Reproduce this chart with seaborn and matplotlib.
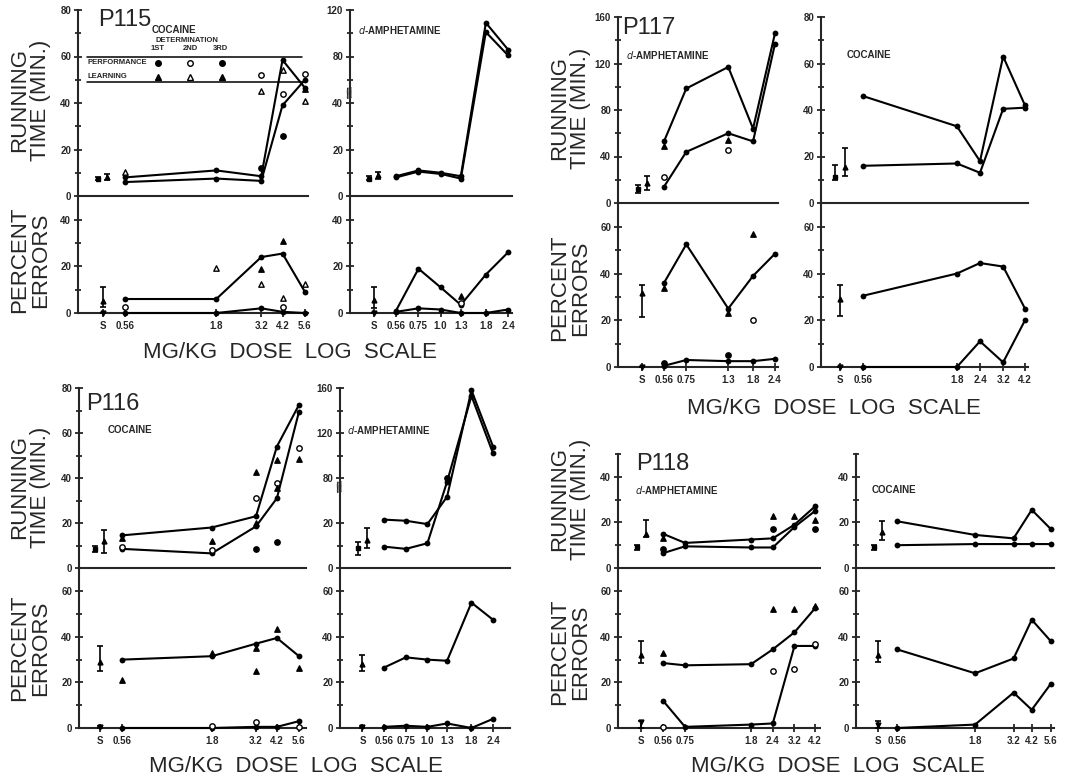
import numpy as np
import matplotlib
matplotlib.use("Agg")
import matplotlib.pyplot as plt
from matplotlib.lines import Line2D
from matplotlib.ticker import NullLocator, FixedLocator
import seaborn as sns

# ---------------- values ----------------
SALINE_AT = 0.42   # "S" sits just left of the lowest dose on the log axis

# P115 cocaine
P115C_DOSE = [0.56, 1.8, 3.2, 4.2, 5.6]
P115C_TIME_LRN = [8, 11, 8.5, 58.5, 46.5]
P115C_TIME_PRF = [6, 7.5, 6.5, 39, 50]
P115C_ERR_LRN = [6, 6, 24, 25.5, 9]
P115C_ERR_PRF = [0, 0, 2, 0.5, 0]
P115C_TPT_DOSE = [0.56, 3.2, 3.2, 3.2, 4.2, 4.2, 4.2, 5.6, 5.6, 5.6]
P115C_TPT_VAL = [10.5, 52, 45, 12, 44, 26, 54, 52.5, 41, 46]
P115C_TPT_KIND = ["tri_open", "circ_open", "tri_open", "circ_fill", "circ_open",
                  "circ_fill", "tri_open", "circ_open", "tri_open", "tri_fill"]
P115C_EPT_DOSE = [0.56, 1.8, 3.2, 3.2, 4.2, 4.2, 4.2, 5.6]
P115C_EPT_VAL = [2.5, 19.5, 19, 12.5, 31, 6.5, 2.5, 12.5]
P115C_EPT_KIND = ["circ_open", "tri_open", "tri_fill", "tri_open", "tri_fill",
                  "tri_open", "circ_open", "tri_open"]
P115C_BASE = [[7.5, 7, 8.2], [8, 6.8, 9.5], [5, 2.7, 11], [0, 0, 0]]  # time prf, time lrn, err lrn, err prf

# P115 d-amphetamine
P115A_DOSE = [0.56, 0.75, 1.0, 1.3, 1.8, 2.4]
P115A_TIME_LRN = [8.5, 11, 10, 8.5, 109, 86]
P115A_TIME_PRF = [8, 10.5, 9.5, 7.5, 101, 81]
P115A_ERR_LRN = [1, 19, 11, 3.5, 16.5, 26]
P115A_ERR_PRF = [0.5, 2, 1.5, 0, 0, 1.5]
P115A_EPT_DOSE = [1.3, 1.3]
P115A_EPT_VAL = [7.5, 4.5]
P115A_EPT_KIND = ["tri_fill", "circ_open"]
P115A_BASE = [[7.5, 7, 8.5], [9, 7.5, 10.5], [5.5, 2, 11], [0, 0, 0]]

# P117 d-amphetamine
P117A_DOSE = [0.56, 0.75, 1.3, 1.8, 2.4]
P117A_TIME_LRN = [53, 98.5, 117, 64, 146]
P117A_TIME_PRF = [14, 44, 60, 53, 137]
P117A_ERR_LRN = [36, 52.5, 25, 39, 48.5]
P117A_ERR_PRF = [0.5, 3, 2.5, 2.5, 3.5]
P117A_TPT_DOSE = [0.56, 0.56, 1.3, 1.3]
P117A_TPT_VAL = [49, 22.5, 54, 46]
P117A_TPT_KIND = ["tri_fill", "circ_open", "tri_fill", "circ_open"]
P117A_EPT_DOSE = [0.56, 0.56, 1.3, 1.3, 1.8, 1.8]
P117A_EPT_VAL = [34, 1.5, 23, 5, 57, 20]
P117A_EPT_KIND = ["tri_fill", "circ_fill", "tri_fill", "circ_fill", "tri_fill", "circ_open"]
P117A_BASE = [[12, 8.3, 15.5], [17.5, 11, 23.5], [31.5, 21.5, 35], [0, 0, 0]]

# P117 cocaine
P117C_DOSE = [0.56, 1.8, 2.4, 3.2, 4.2]
P117C_TIME_LRN = [46, 33, 18, 63, 42]
P117C_TIME_PRF = [16, 17, 13, 40.5, 41]
P117C_ERR_LRN = [30.5, 40, 44.5, 43, 25]
P117C_ERR_PRF = [0, 0, 11, 2, 20]
P117C_BASE = [[11, 10, 16.5], [15.5, 11.5, 23.5], [29, 22, 35], [0, 0, 0]]

# P116 cocaine
P116C_DOSE = [0.56, 1.8, 3.2, 4.2, 5.6]
P116C_TIME_LRN = [14.5, 18, 23, 54, 72.5]
P116C_TIME_PRF = [8.5, 6.5, 18.5, 31, 69.5]
P116C_ERR_LRN = [30, 31.5, 37, 39.5, 31.5]
P116C_ERR_PRF = [0, 0, 0.5, 0.5, 3]
P116C_TPT_DOSE = [0.56, 0.56, 1.8, 1.8, 3.2, 3.2, 3.2, 3.2, 4.2, 4.2, 4.2, 4.2, 5.6, 5.6]
P116C_TPT_VAL = [13.5, 9.5, 12, 8, 42.5, 31, 20, 8.5, 48, 38, 35.5, 11.5, 53.5, 48.5]
P116C_TPT_KIND = ["tri_fill", "circ_open", "tri_fill", "circ_open", "tri_fill", "circ_open",
                  "tri_fill", "circ_fill", "tri_fill", "circ_open", "tri_fill", "circ_fill",
                  "circ_open", "tri_fill"]
P116C_EPT_DOSE = [0.56, 1.8, 1.8, 3.2, 3.2, 3.2, 4.2, 5.6, 5.6]
P116C_EPT_VAL = [21, 33, 1, 35, 25, 2.5, 43.5, 26.5, 0.5]
P116C_EPT_KIND = ["tri_fill", "tri_fill", "circ_open", "tri_fill", "tri_fill", "circ_open",
                  "tri_fill", "tri_fill", "circ_open"]
P116C_BASE = [[8.5, 7, 10], [12, 6.5, 17], [29, 25, 36], [0.5, 0, 1]]

# P116 d-amphetamine
P116A_DOSE = [0.56, 0.75, 1.0, 1.3, 1.8, 2.4]
P116A_TIME_LRN = [24.5, 23, 19.5, 55, 158, 108]
P116A_TIME_PRF = [9.5, 8.5, 11, 75, 153, 102]
P116A_ERR_LRN = [26.5, 31, 30, 29.5, 55, 47.5]
P116A_ERR_PRF = [0.5, 1, 0.5, 2, 0, 4]
P116A_TPT_DOSE = [1.3]
P116A_TPT_VAL = [80]
P116A_TPT_KIND = ["circ_fill"]
P116A_BASE = [[9, 6, 11.5], [12.4, 9, 17.7], [28, 25, 32], [0.5, 0, 1]]

# P118 d-amphetamine
P118A_DOSE = [0.56, 0.75, 1.8, 2.4, 3.2, 4.2]
P118A_TIME_LRN = [15, 11, 12.5, 13, 19, 27]
P118A_TIME_PRF = [6.5, 9.5, 9, 9, 18, 25]
P118A_ERR_LRN = [28.5, 27.5, 28, 34.5, 42, 52.5]
P118A_ERR_PRF = [12, 0.5, 1.5, 2, 36, 36]
P118A_TPT_DOSE = [0.56, 0.56, 2.4, 2.4, 3.2, 4.2, 4.2]
P118A_TPT_VAL = [13, 8.5, 23, 17, 23, 21, 17]
P118A_TPT_KIND = ["tri_fill", "circ_fill", "tri_fill", "circ_fill", "tri_fill", "tri_fill", "circ_fill"]
P118A_EPT_DOSE = [0.56, 0.56, 2.4, 2.4, 3.2, 3.2, 4.2, 4.2]
P118A_EPT_VAL = [33, 0.5, 52, 25, 52, 26, 53.5, 37]
P118A_EPT_KIND = ["tri_fill", "circ_open", "tri_fill", "circ_open", "tri_fill", "circ_open",
                  "tri_fill", "circ_open"]
P118A_BASE = [[9, 8, 10], [15, 13.5, 21], [32, 28.5, 38], [2.5, 0, 3]]

# P118 cocaine
P118C_DOSE = [0.56, 1.8, 3.2, 4.2, 5.6]
P118C_TIME_LRN = [20.5, 14.5, 13, 25.5, 17]
P118C_TIME_PRF = [10, 10.5, 10.5, 10.5, 10.5]
P118C_ERR_LRN = [34.5, 24, 30.5, 47.5, 38]
P118C_ERR_PRF = [0, 1.5, 15.5, 8, 19.5]
P118C_BASE = [[9, 8, 10], [16, 12.5, 20.5], [32, 29, 38], [1.5, 0, 3]]

# broken running-time axes on the amphetamine plots (minutes -> drawn height)
P115A_BREAK_IN = [-100, 0, 40, 120, 1000]
P115A_BREAK_OUT = [-100, 0, 40, 80, 520]
P116A_BREAK_IN = [-100, 0, 20, 80, 160, 1000]
P116A_BREAK_OUT = [-100, 0, 20, 40, 80, 500]

# ---------------- figure ----------------
W, H = 1076, 779
sns.set_style("ticks")
plt.rcParams["font.family"] = ["Liberation Sans Narrow", "Liberation Sans", "DejaVu Sans"]
plt.rcParams["axes.linewidth"] = 1.5

fig = plt.figure(figsize=(W / 100, H / 100), dpi=100)

KIND_STYLE = {"circ_open": ("o", "white"), "circ_fill": ("o", "black"),
              "tri_open": ("^", "white"), "tri_fill": ("^", "black")}
TICKFONT = dict(fontsize=7, fontweight="bold")


def px_axes(l, r, t, b):
    return fig.add_axes([l / W, 1 - b / H, (r - l) / W, (b - t) / H])


def ftext(x, y, s, **kw):
    fig.text(x / W, 1 - y / H, s, **kw)


def dose_label(d):
    s = f"{d:.2f}"
    return s[:-1] if s.endswith("0") else s


def style_axis(ax, major, minor):
    sns.despine(ax=ax, top=True, right=True)
    ax.yaxis.set_major_locator(FixedLocator(major))
    ax.yaxis.set_minor_locator(FixedLocator(minor))
    ax.set_yticklabels([str(v) for v in major], **TICKFONT)
    ax.tick_params(axis="y", which="major", direction="inout", length=6, width=1.3, pad=2)
    ax.tick_params(axis="y", which="minor", direction="inout", length=5, width=1.3)
    ax.set_xscale("log")
    ax.xaxis.set_minor_locator(NullLocator())
    ax.set_facecolor("none")
    ax.set_xlabel("")
    ax.set_ylabel("")


def draw_points(ax, dose, val, kind):
    for k, (m, fc) in KIND_STYLE.items():
        xs = [d for d, kk in zip(dose, kind) if kk == k]
        ys = [v for v, kk in zip(val, kind) if kk == k]
        if xs:
            sns.scatterplot(x=xs, y=ys, marker=m, color=fc, edgecolor="black", linewidth=1.0,
                            s=15, ax=ax, zorder=4, clip_on=False, legend=False)


def draw_line(ax, dose, val):
    sns.lineplot(x=dose, y=val, ax=ax, color="black", linewidth=1.5, marker="o",
                 markersize=4.2, markeredgewidth=0, estimator=None, sort=False,
                 clip_on=False, legend=False, zorder=3)


def base_bar(ax, x, b, marker):
    m, lo, hi = b
    ax.errorbar([x], [m], yerr=[[m - lo], [hi - m]], fmt=marker, ms=3.5, color="black",
                capsize=2.5, elinewidth=1.2, capthick=1.2, clip_on=False, zorder=4)


def column(L, R, p_lo, p_hi, rows, dose, t_lrn, t_prf, e_lrn, e_prf, base,
           t_ticks, e_ticks, t_pts=None, e_pts=None, breaks=None, top_max=80, err_max=70):
    (tt, tb), (bt, bb) = rows
    ax_t = px_axes(L, R, tt, tb)
    ax_b = px_axes(L, R, bt, bb)
    k = (p_hi - p_lo) / np.log(dose[-1] / dose[0])
    xlim = (dose[0] * np.exp(-(p_lo - L) / k), dose[-1] * np.exp((R - p_hi) / k))

    if breaks is not None:
        b_in, b_out = breaks
        ax_t.set_yscale("function", functions=(lambda y: np.interp(y, b_in, b_out),
                                               lambda y: np.interp(y, b_out, b_in)))
    # running time
    draw_line(ax_t, dose, t_lrn)
    draw_line(ax_t, dose, t_prf)
    if t_pts:
        draw_points(ax_t, *t_pts)
    base_bar(ax_t, SALINE_AT / 1.06, base[0], "s")
    base_bar(ax_t, SALINE_AT * 1.06, base[1], "^")
    style_axis(ax_t, *t_ticks)
    ax_t.set_xlim(*xlim)
    ax_t.set_ylim(0, top_max)
    ax_t.tick_params(axis="x", bottom=False, labelbottom=False)
    # percent errors
    draw_line(ax_b, dose, e_lrn)
    draw_line(ax_b, dose, e_prf)
    if e_pts:
        draw_points(ax_b, *e_pts)
    base_bar(ax_b, SALINE_AT, base[2], "^")
    base_bar(ax_b, SALINE_AT, base[3], "v")
    style_axis(ax_b, *e_ticks)
    ax_b.set_xlim(*xlim)
    ax_b.set_ylim(0, err_max)
    ax_b.set_xticks([SALINE_AT] + list(dose))
    ax_b.set_xticklabels(["S"] + [dose_label(d) for d in dose], **TICKFONT)
    ax_b.tick_params(axis="x", which="major", direction="inout", length=6, width=1.3, pad=3)
    return ax_t, ax_b


def break_mark(ax, y):
    ax.text(0, y, "//", transform=ax.get_yaxis_transform(), fontsize=10, fontweight="bold",
            ha="center", va="center", rotation=10, zorder=6)


T80 = ([0, 20, 40, 60, 80], [10, 30, 50, 70])
E40 = ([0, 20, 40], [10, 30])
E60 = ([0, 20, 40, 60], [10, 30, 50])

# P115
column(78, 308, 125, 305, [(10, 196), (196, 313)], P115C_DOSE, P115C_TIME_LRN,
       P115C_TIME_PRF, P115C_ERR_LRN, P115C_ERR_PRF, P115C_BASE, T80, E40,
       (P115C_TPT_DOSE, P115C_TPT_VAL, P115C_TPT_KIND),
       (P115C_EPT_DOSE, P115C_EPT_VAL, P115C_EPT_KIND), err_max=50.2)
ax2, _ = column(350, 512, 396, 508, [(10, 196), (196, 313)], P115A_DOSE, P115A_TIME_LRN,
                P115A_TIME_PRF, P115A_ERR_LRN, P115A_ERR_PRF, P115A_BASE,
                ([0, 20, 40, 80, 120], [10, 30, 60, 100]), E40, None,
                (P115A_EPT_DOSE, P115A_EPT_VAL, P115A_EPT_KIND),
                breaks=(P115A_BREAK_IN, P115A_BREAK_OUT), top_max=120, err_max=50.2)
break_mark(ax2, 47)

# P117
column(618, 778, 664, 775, [(17, 203), (203, 367)], P117A_DOSE, P117A_TIME_LRN,
       P117A_TIME_PRF, P117A_ERR_LRN, P117A_ERR_PRF, P117A_BASE,
       ([0, 40, 80, 120, 160], [20, 60, 100, 140]), E60,
       (P117A_TPT_DOSE, P117A_TPT_VAL, P117A_TPT_KIND),
       (P117A_EPT_DOSE, P117A_EPT_VAL, P117A_EPT_KIND), top_max=160, err_max=70.2)
column(821, 1028, 863, 1025, [(17, 203), (203, 367)], P117C_DOSE, P117C_TIME_LRN,
       P117C_TIME_PRF, P117C_ERR_LRN, P117C_ERR_PRF, P117C_BASE, T80, E60, err_max=70.2)

# P116
column(79, 306, 122, 299, [(388, 568), (568, 728)], P116C_DOSE, P116C_TIME_LRN,
       P116C_TIME_PRF, P116C_ERR_LRN, P116C_ERR_PRF, P116C_BASE, T80, E60,
       (P116C_TPT_DOSE, P116C_TPT_VAL, P116C_TPT_KIND),
       (P116C_EPT_DOSE, P116C_EPT_VAL, P116C_EPT_KIND), err_max=70.2)
ax6, _ = column(340, 510, 384, 493, [(388, 568), (568, 728)], P116A_DOSE, P116A_TIME_LRN,
                P116A_TIME_PRF, P116A_ERR_LRN, P116A_ERR_PRF, P116A_BASE,
                ([0, 20, 80, 120, 160], [10, 100, 140]), E60,
                (P116A_TPT_DOSE, P116A_TPT_VAL, P116A_TPT_KIND), None,
                breaks=(P116A_BREAK_IN, P116A_BREAK_OUT), top_max=160, err_max=70.2)
break_mark(ax6, 66)

# P118
column(618, 820, 663, 815, [(454, 568), (568, 728)], P118A_DOSE, P118A_TIME_LRN,
       P118A_TIME_PRF, P118A_ERR_LRN, P118A_ERR_PRF, P118A_BASE,
       ([0, 20, 40], [10, 30, 50]), E60,
       (P118A_TPT_DOSE, P118A_TPT_VAL, P118A_TPT_KIND),
       (P118A_EPT_DOSE, P118A_EPT_VAL, P118A_EPT_KIND), top_max=50, err_max=70.2)
column(856, 1054, 897, 1051, [(454, 568), (568, 728)], P118C_DOSE, P118C_TIME_LRN,
       P118C_TIME_PRF, P118C_ERR_LRN, P118C_ERR_PRF, P118C_BASE,
       ([0, 20, 40], [10, 30, 50]), E60, top_max=50, err_max=70.2)

# ---------------- labels ----------------
YL = dict(fontsize=16, rotation=90, ha="center", va="center", linespacing=1.0)
for x, y in [(30, 100), (570, 108), (30, 487), (570, 499)]:
    ftext(x, y, "RUNNING\nTIME (MIN.)", **YL)
for x, y in [(30, 260), (570, 288), (30, 648), (570, 652)]:
    ftext(x, y, "PERCENT\nERRORS", **YL)
for x, y in [(290, 352), (834, 408), (296, 767), (838, 767)]:
    ftext(x, y, "MG/KG  DOSE  LOG  SCALE", fontsize=16, ha="center", va="center")

for (x, y), s in zip([(98, 20), (622, 28), (86, 404), (636, 464)], ["P115", "P117", "P116", "P118"]):
    ftext(x, y, s, fontsize=17, ha="left", va="center")

DRUG = dict(fontsize=7, fontweight="bold", ha="left", va="center")
ftext(358, 30, "$\\it{d}$-AMPHETAMINE", **DRUG)
ftext(626, 55, "$\\it{d}$-AMPHETAMINE", **DRUG)
ftext(847, 55, "COCAINE", **DRUG)
ftext(108, 430, "COCAINE", **DRUG)
ftext(347, 430, "$\\it{d}$-AMPHETAMINE", **DRUG)
ftext(635, 490, "$\\it{d}$-AMPHETAMINE", **DRUG)
ftext(872, 490, "COCAINE", **DRUG)

# P115 determination key
SMALL = dict(fontsize=5.5, fontweight="bold", va="center")
ftext(152, 30, "COCAINE", fontsize=7, fontweight="bold", va="center")
ftext(156, 40, "DETERMINATION", **SMALL)
for x, s in [(158, "1ST"), (190, "2ND"), (220, "3RD")]:
    ftext(x, 49, s, ha="center", **SMALL)
for y in (57, 82):
    fig.add_artist(Line2D([87 / W, 302 / W], [1 - y / H] * 2, color="black", lw=1.1))
ftext(88, 63, "PERFORMANCE", **SMALL)
ftext(88, 76, "LEARNING", **SMALL)
for x, fc in [(158, "black"), (190, "white"), (222, "black")]:
    fig.add_artist(Line2D([x / W], [1 - 63 / H], marker="o", ms=4, mfc=fc, mec="black", mew=1))
for x, fc in [(158, "black"), (190, "white"), (222, "black")]:
    fig.add_artist(Line2D([x / W], [1 - 77 / H], marker="^", ms=4.5, mfc=fc, mec="black", mew=1))

fig.savefig("out.png", dpi=100)
